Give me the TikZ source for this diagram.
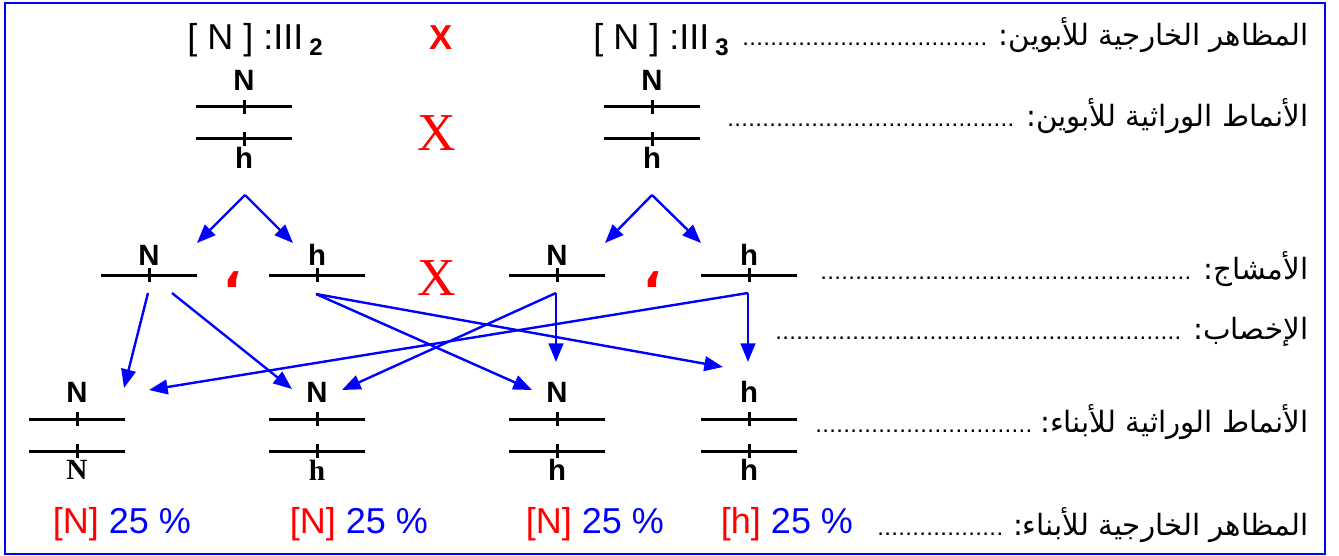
\documentclass[tikz,border=0pt]{standalone}
\usepackage{fontspec}
\setmainfont{Liberation Sans}
\newfontfamily\serifface{Liberation Serif}
\newfontfamily\arabicfont[Script=Arabic]{DejaVu Sans}
\TeXXeTstate=1
\usetikzlibrary{arrows.meta,calc}
\definecolor{inkblue}{HTML}{0000FF}
\definecolor{inkred}{HTML}{FF0000}
\newcommand\dotlead{\leaders\hbox to 5.25pt{\hss.\hss}\hfill}
\tikzset{
  bar/.style={minimum width=72pt,minimum height=10.5pt,inner sep=0pt,
              path picture={
                \draw[line width=2.25pt] (path picture bounding box.west)
                  -- (path picture bounding box.east);
                \draw[line width=2.25pt] (path picture bounding box.north)
                  -- (path picture bounding box.south);}},
  allele/.style={inner sep=0pt,font=\fontsize{22}{22}\selectfont\bfseries},
  serifallele/.style={inner sep=0pt,font=\fontsize{22}{22}\selectfont\serifface\bfseries},
  pheno/.style={inner sep=0pt,font=\fontsize{27}{27}\selectfont},
  cross/.style={inner sep=0pt,text=inkred,font=\fontsize{40}{40}\selectfont\serifface},
  comma/.style={inner sep=0pt,text=inkred,font=\fontsize{36}{36}\selectfont\arabicfont\bfseries},
  rowlabel/.style={inner sep=0pt,anchor=base west,font=\fontsize{18}{18}\selectfont},
  flow/.style={-{Triangle[length=14pt,width=11pt]},line width=1.8pt,draw=inkblue},
  ratio/.style={inner sep=0pt,font=\fontsize{27}{27}\selectfont}
}
\begin{document}
\begin{tikzpicture}[x=0.75pt,y=-0.75pt]
    \useasboundingbox (0,0) rectangle (1339,556);
    \draw[inkblue,line width=1.5pt] (5,3) rectangle (1325,554);

    % parents
    \node[pheno] (ph1) at (255,40) {[ N ] :III\,\raisebox{-5pt}{\fontsize{18}{18}\selectfont\bfseries 2}};
    \node[inner sep=0pt,text=inkred,font=\fontsize{26}{26}\selectfont\bfseries] (xtop) at (441,38) {X};
    \node[pheno] (ph2) at (661,40) {[ N ] :III\,\raisebox{-5pt}{\fontsize{18}{18}\selectfont\bfseries 3}};

    \node[bar] (p1a) at (244,107) {};
    \node[bar] (p1b) at (244,139) {};
    \node[allele] (p1N) at (244,80) {N};
    \node[allele] (p1h) at (244,158) {h};
    \node[cross] (xmid) at (437,133) {X};
    \node[bar] (p2a) at (652,107) {};
    \node[bar] (p2b) at (652,139) {};
    \node[allele] (p2N) at (652,80) {N};
    \node[allele] (p2h) at (652,158) {h};

    % gametes
    \coordinate (m1) at (245,195);
    \coordinate (m2) at (652,195);
    \coordinate (m1l) at (197,243);
    \coordinate (m1r) at (293,243);
    \coordinate (m2l) at (605,243);
    \coordinate (m2r) at (701,243);
    \draw[flow] (m1) -- (m1l);
    \draw[flow] (m1) -- (m1r);
    \draw[flow] (m2) -- (m2l);
    \draw[flow] (m2) -- (m2r);

    \node[bar] (g1) at (149,275) {};
    \node[bar] (g2) at (317,275) {};
    \node[bar] (g3) at (557,275) {};
    \node[bar] (g4) at (749,275) {};
    \node[allele] (g1N) at (149,255) {N};
    \node[allele] (g2h) at (317,255) {h};
    \node[allele] (g3N) at (557,255) {N};
    \node[allele] (g4h) at (749,255) {h};
    \node[comma] (c1) at (233,280) {،};
    \node[comma] (c2) at (653,280) {،};
    \node[cross] (xlow) at (437,278) {X};

    % offspring
    \foreach \x/\n in {77/o1,317/o2,557/o3,749/o4}{
      \node[bar] (\n a) at (\x,419) {};
      \node[bar] (\n b) at (\x,451) {};
    }
    \node[allele] (o1N) at (77,392) {N};
    \node[allele] (o2N) at (317,392) {N};
    \node[allele] (o3N) at (557,392) {N};
    \node[allele] (o4h) at (749,392) {h};
    \node[serifallele] (o1M) at (77,470) {N};
    \node[serifallele] (o2M) at (317,470) {h};
    \node[allele] (o3M) at (557,470) {h};
    \node[allele] (o4M) at (749,470) {h};

    % fertilisation
    \coordinate (t1a) at (124,388);
    \coordinate (t1b) at (149,390);
    \coordinate (t2a) at (292,389);
    \coordinate (t2b) at (342,390);
    \coordinate (t3a) at (532,390);
    \coordinate (t3b) at (556,362);
    \coordinate (t4a) at (723,367);
    \coordinate (t4b) at (748,362);
    \draw[flow] ($(g1)+(-1,18)$) -- (t1a);
    \draw[flow] ($(g1)+(23,18)$) -- (t2a);
    \draw[flow] ($(g2)+(-1,19)$) -- (t3a);
    \draw[flow] ($(g2)+(-1,19)$) -- (t4a);
    \draw[flow] ($(g3)+(-1,18)$) -- (t3b);
    \draw[flow] ($(g3)+(-1,18)$) -- (t2b);
    \draw[flow] ($(g4)+(-1,18)$) -- (t4b);
    \draw[flow] ($(g4)+(-1,18)$) -- (t1b);

    % percentages
    \node[ratio] (r1) at (122,524) {\textcolor{inkred}{[N]} \textcolor{inkblue}{25 \%}};
    \node[ratio] (r2) at (359,524) {\textcolor{inkred}{[N]} \textcolor{inkblue}{25 \%}};
    \node[ratio] (r3) at (595,524) {\textcolor{inkred}{[N]} \textcolor{inkblue}{25 \%}};
    \node[ratio] (r4) at (787,524) {\textcolor{inkred}{[h]} \textcolor{inkblue}{25 \%}};

    % row captions
    \node[rowlabel] (l1) at (742,46) {\hbox to 424.5pt{\dotlead\hskip 5pt{\fontsize{22}{22}\selectfont\arabicfont\beginR المظاهر الخارجية للأبوين:\endR}}};
    \node[rowlabel] (l2) at (727,127) {\hbox to 435.75pt{\dotlead\hskip 5pt{\fontsize{22}{22}\selectfont\arabicfont\beginR الأنماط الوراثية للأبوين:\endR}}};
    \node[rowlabel] (l3) at (820,279) {\hbox to 366pt{\dotlead\hskip 5pt{\fontsize{22}{22}\selectfont\arabicfont\beginR الأمشاج:\endR}}};
    \node[rowlabel] (l4) at (775,339) {\hbox to 399.75pt{\dotlead\hskip 5pt{\fontsize{22}{22}\selectfont\arabicfont\beginR الإخصاب:\endR}}};
    \node[rowlabel] (l5) at (815,432) {\hbox to 369.75pt{\dotlead\hskip 5pt{\fontsize{22}{22}\selectfont\arabicfont\beginR الأنماط الوراثية للأبناء:\endR}}};
    \node[rowlabel] (l6) at (877,535) {\hbox to 323.25pt{\dotlead\hskip 5pt{\fontsize{22}{22}\selectfont\arabicfont\beginR المظاهر الخارجية للأبناء:\endR}}};
  \end{tikzpicture}
\end{document}
